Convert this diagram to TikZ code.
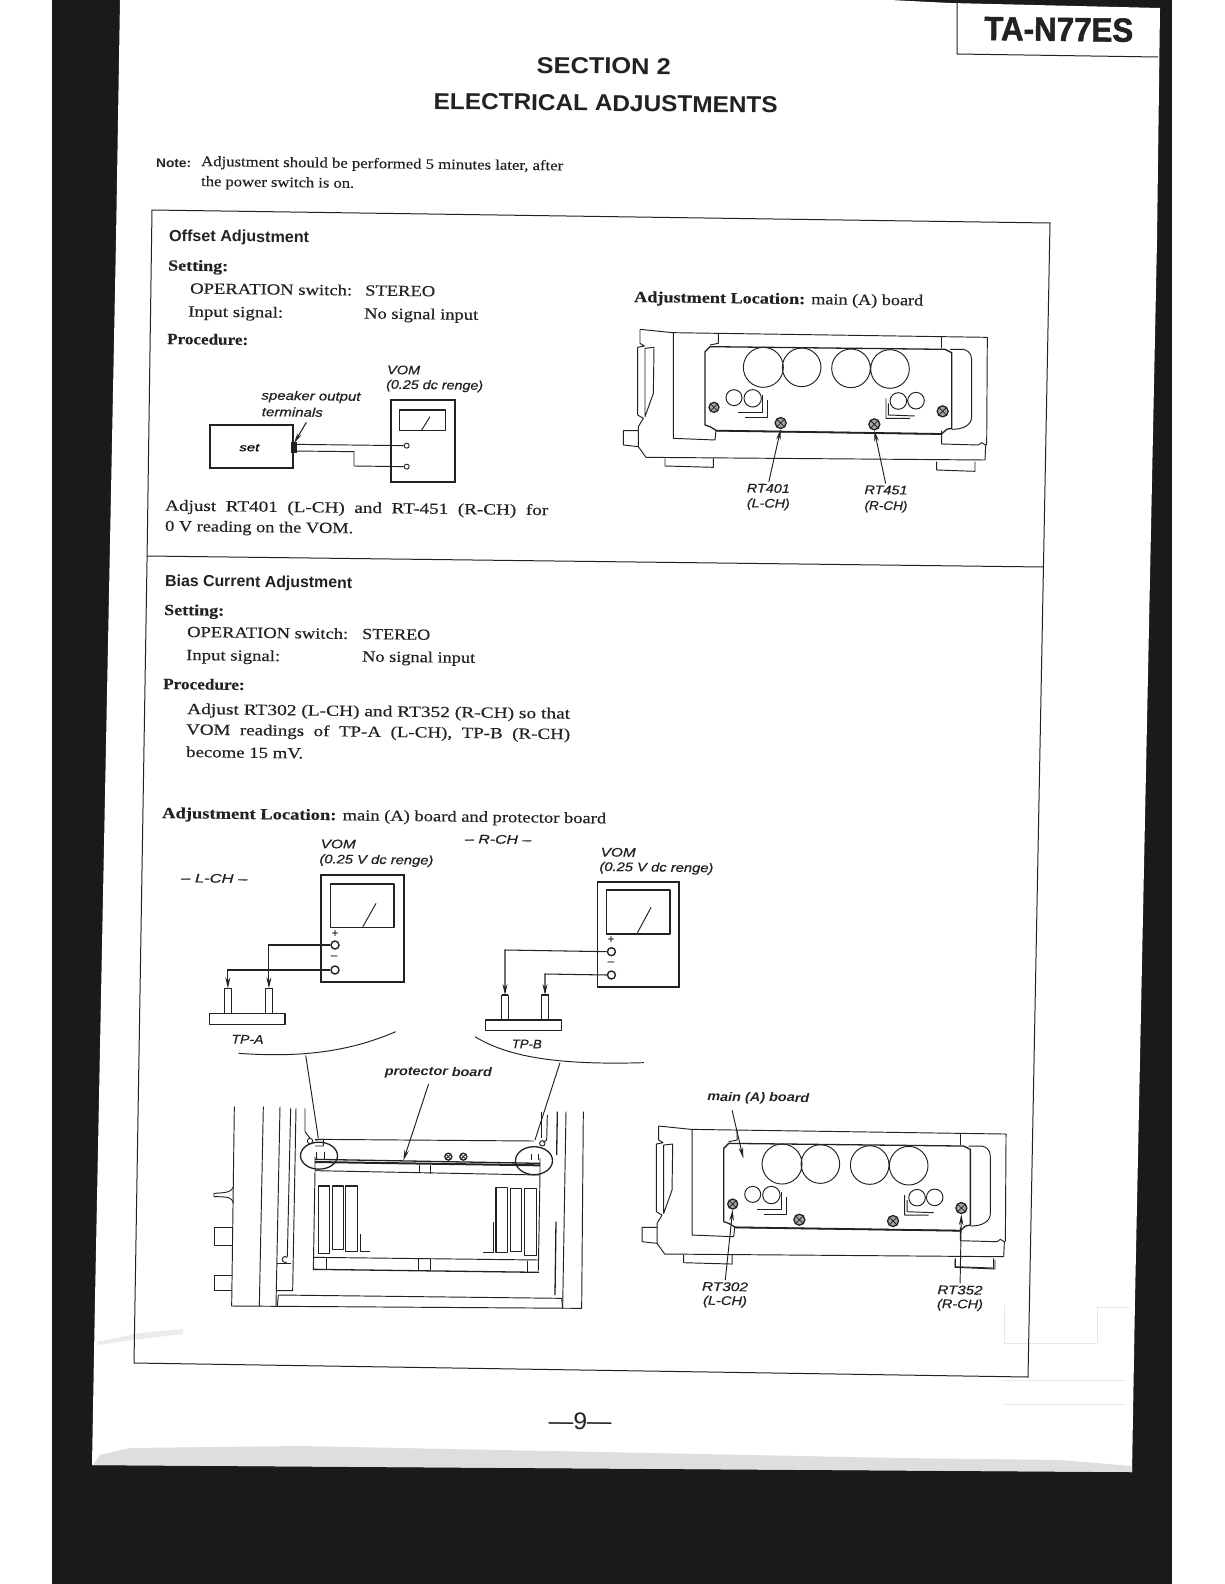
\documentclass[tikz,border=0pt]{standalone}
\usepackage{fontspec}
\usepackage{graphicx}
\usetikzlibrary{arrows.meta}
\setmainfont{Liberation Serif}[FakeBold=0.25]
\setsansfont{Liberation Sans}[ItalicFeatures={FakeBold=0.5}]
\newfontfamily\headfont{Liberation Sans}[BoldFeatures={FakeBold=1.6}]
\definecolor{ink}{HTML}{222222}
\definecolor{band}{HTML}{1A1A1A}
\tikzset{
  thinl/.style={draw=ink,line width=0.95pt,line join=round},
  thickl/.style={draw=ink,line width=1.9pt,line join=miter},
  midl/.style={draw=ink,line width=1.3pt,line join=round},
  frameline/.style={draw=ink,line width=1pt},
  txt/.style={inner sep=0pt,text=ink,rotate=-0.7},
  lab/.style={inner sep=0pt,text=ink,rotate=-0.7,font=\sffamily\itshape\fontsize{12.5}{14}\selectfont},
  term/.style={circle,draw=ink,line width=1.4pt,fill=white,inner sep=0pt,minimum size=8pt},
  termsm/.style={circle,draw=ink,line width=0.9pt,fill=white,inner sep=0pt,minimum size=5pt},
  screwn/.style={circle,draw=ink,line width=1.3pt,fill=black!35,inner sep=0pt,minimum size=#1,
    path picture={\draw[ink,line width=0.8pt] (path picture bounding box.north west)--(path picture bounding box.south east)
      (path picture bounding box.north east)--(path picture bounding box.south west);}},
  lead/.style={draw=ink,line width=0.95pt,shorten <=2pt,-{Stealth[length=11pt,width=4.5pt]}},
  probe/.style={draw=ink,line width=1.05pt,-{Stealth[length=11pt,width=5pt]}},
}
% text line: name, x, y(centre), width, font, text
\newcommand{\tl}[6]{\node[txt,anchor=base west,yshift=-5pt] (#1) at (#2,#3) {\resizebox{#4pt}{\height}{#5#6}};}
% small italic label centred: name, x, y, width, text
\newcommand{\lb}[5]{\node[lab] (#1) at (#2,#3) {\resizebox{#4pt}{\height}{#5}};}
\newcommand{\chassis}[3]{%
\begin{scope}[shift={(#1,#2)},x=0.33333pt,y=-0.33333pt]
  % outer body
  \draw[thinl] (90,58)--(90,100)--(103,108)--(83,112)--(83,315)--(100,325)--(85,350)--(85,410)--(108,442)--(1125,450)--(1127,405)--(1115,398)--(1105,405)--(995,402)--(995,362);
  \draw[thinl] (90,58)--(188,68)--(1132,82)--(1130,405);
  \draw[thinl] (190,68)--(190,385)--(315,390)--(318,360);
  \draw[thinl] (325,72)--(325,100)--(300,105);
  \draw[thinl] (995,82)--(995,115);
  \draw[thinl] (1020,118)--(1060,118)..controls (1085,125) and (1085,140)..(1085,160)--(1085,320)..controls (1085,345) and (1060,358)..(1025,358);
  \draw[thinl] (105,115)--(132,112)--(130,250)--(105,320)--cycle;
  \draw[thinl] (85,362)--(40,362)--(40,405)--(85,410);
  \draw[thinl] (165,445)--(165,468)--(310,472)--(310,445);
  \draw[thinl] (980,455)--(980,480)--(1095,484)--(1095,455);
  % main board
  \draw[midl] (285,125)--(300,110)--(1005,118)--(1025,128)--(1025,355)--(1010,358)--(995,372)--(320,362)--(300,350)--(285,345)--cycle;
  \draw[draw=ink,line width=1.8pt] (320,362)--(995,372);
  % large capacitors
  \draw[thinl] (460,172) circle (20pt) (575,172) circle (19.3pt) (723,175) circle (19.3pt) (840,177) circle (19.3pt);
  \draw[thinl] (372,263) circle (8pt) (428,265) circle (8.7pt) (865,273) circle (8.3pt) (918,272) circle (8.3pt);
  \draw[thinl] (458,255)--(458,307)--(385,307) (472,270)--(472,322)--(405,322);
  \draw[thinl] (828,265)--(828,325)--(900,325) (835,280)--(835,315)--(915,318);
  \node[screwn=10pt] (#31) at (312,292) {};
  \node[screwn=11pt] (#32) at (512,339) {};
  \node[screwn=11pt] (#33) at (793,343) {};
  \node[screwn=11pt] (#34) at (998,304) {};
\end{scope}}
\begin{document}
\begin{tikzpicture}[x=1pt,y=-1pt]
\useasboundingbox (0,0) rectangle (1224,1584);
\fill[white] (0,0) rectangle (1224,1584);
\fill[band] (52,0) rectangle (1172,1584);
\fill[white] (120,0)--(116,240)--(95,1300)--(92,1465)--(1132,1472)--(1135,1300)--(1157,240)--(1160,8)--(950,3)--(890,0)--cycle;
\fill[black!13] (93,1465)--(100,1455)--(130,1448)--(300,1446)--(600,1452)--(900,1458)--(1060,1460)--(1132,1466)--(1132,1472)--cycle;
\fill[black!8] (97,1342)--(140,1333)--(183,1329)--(183,1334)--(140,1339)--(97,1345)--cycle;
\draw[black!9,line width=0.8pt] (1004,1305)--(1004,1343)--(1097,1343)--(1097,1307)--(1130,1307) (1004,1380)--(1125,1380) (1004,1404)--(1125,1404);

% header
\draw[frameline] (957,3)--(957,54)--(1158,57);
\tl{hd}{984}{35}{149}{\headfont\bfseries\fontsize{33.5}{36}\selectfont}{TA-N77ES}
\tl{sec}{536.5}{68}{134}{\sffamily\bfseries\fontsize{23}{26}\selectfont}{SECTION 2}
\tl{elec}{433.5}{104}{344}{\sffamily\bfseries\fontsize{23}{26}\selectfont}{ELECTRICAL ADJUSTMENTS}
\tl{note}{156}{162}{35}{\sffamily\bfseries\fontsize{12.5}{14}\selectfont}{Note:}
\tl{n1}{201}{161}{362}{\fontsize{14.5}{16}\selectfont}{Adjustment should be performed 5 minutes later, after}
\tl{n2}{201}{181}{153}{\fontsize{14.5}{16}\selectfont}{the power switch is on.}

% frame
\draw[frameline] (152,210)--(1050,223)--(1028,1377)--(134,1363)--(147,562)--cycle;
\draw[frameline] (147,556)--(1044,567);

% offset section
\tl{oa}{169}{236}{140}{\sffamily\bfseries\fontsize{16}{18}\selectfont}{Offset Adjustment}
\tl{s1}{168}{265.5}{60}{\bfseries\fontsize{15.5}{18}\selectfont}{Setting:}
\tl{op1}{190}{288.5}{162}{\fontsize{15.5}{18}\selectfont}{OPERATION switch:}
\tl{st1}{365}{290.5}{70}{\fontsize{15.5}{18}\selectfont}{STEREO}
\tl{in1}{188}{311.5}{95}{\fontsize{15.5}{18}\selectfont}{Input signal:}
\tl{no1}{364}{313.5}{114}{\fontsize{15.5}{18}\selectfont}{No signal input}
\tl{pr1}{167}{339}{81}{\bfseries\fontsize{15.5}{18}\selectfont}{Procedure:}
\tl{adj1}{165}{505.5}{383}{\fontsize{15.5}{18}\selectfont}{Adjust\ \ RT401\ \ (L-CH)\ \ and\ \ RT-451\ \ (R-CH)\ \ for}
\tl{adj2}{165}{526}{188}{\fontsize{15.5}{18}\selectfont}{0 V reading on the VOM.}
\tl{al1}{634}{297}{289}{\fontsize{15.5}{18}\selectfont}{\textbf{Adjustment Location:} main (A) board}

% offset connection diagram
\begin{scope}[shift={(150,350)},x=0.33333pt,y=-0.33333pt]
  \draw[thickl] (181,225) rectangle (430,355);
  \node[inner sep=0pt] (setn) at (298,293) {\sffamily\itshape\fontsize{11}{13}\selectfont\resizebox{20pt}{\height}{set}};
  \lb{spk}{483}{141}{99}{speaker output}
  \lb{ter}{427}{186}{61}{terminals}
  \lb{vom0}{761}{60}{33}{VOM}
  \lb{rng0}{854}{108}{97}{(0.25 dc renge)}
  \draw[thickl] (722,150) rectangle (915,395);
  \draw[midl] (748,180) rectangle (887,242);
  \draw[thinl] (815,240)--(840,200);
  \node[termsm] (t1) at (770,287) {};
  \node[termsm] (t2) at (770,350) {};
  \coordinate (sp) at (432,280);
  \coordinate (spt) at (472,212);
  \coordinate (so1) at (430,283);
  \coordinate (so2) at (430,303);
  \draw[thinl] (so1)--(t1);
  \draw[thinl] (so2)--(612,305)--(612,348)--(t2);
  \fill[ink] (422,275) rectangle (440,308);
  \draw[lead,line width=1.1pt] (spt)--(sp);
\end{scope}

% chassis 1
\chassis{610}{310}{a}
\begin{scope}[shift={(610,310)},x=0.33333pt,y=-0.33333pt]
  \lb{rt401}{475}{535}{43}{RT401}
  \lb{lch1}{475}{583}{43}{(L-CH)}
  \lb{rt451}{828}{540}{43}{RT451}
  \lb{rch1}{828}{590}{43}{(R-CH)}
  \draw[lead] (rt401.north)--(a2.south);
  \draw[lead] (rt451.north)--(a3.south);
\end{scope}

% bias section
\tl{ba}{165}{581}{187}{\sffamily\bfseries\fontsize{16}{18}\selectfont}{Bias Current Adjustment}
\tl{s2}{164}{610}{60}{\bfseries\fontsize{15.5}{18}\selectfont}{Setting:}
\tl{op2}{187}{632}{161}{\fontsize{15.5}{18}\selectfont}{OPERATION switch:}
\tl{st2}{362}{634}{68}{\fontsize{15.5}{18}\selectfont}{STEREO}
\tl{in2}{186}{655}{94}{\fontsize{15.5}{18}\selectfont}{Input signal:}
\tl{no2}{362}{656.5}{113}{\fontsize{15.5}{18}\selectfont}{No signal input}
\tl{pr2}{163}{684}{81.5}{\bfseries\fontsize{15.5}{18}\selectfont}{Procedure:}
\tl{b1}{187}{709}{383}{\fontsize{15.5}{18}\selectfont}{Adjust RT302 (L-CH) and RT352 (R-CH) so that}
\tl{b2}{186}{729.5}{384}{\fontsize{15.5}{18}\selectfont}{VOM\ \ readings\ \ of\ \ TP-A\ \ (L-CH),\ \ TP-B\ \ (R-CH)}
\tl{b3}{186}{752}{117}{\fontsize{15.5}{18}\selectfont}{become 15 mV.}
\tl{al2}{162}{813}{444}{\fontsize{15.5}{18}\selectfont}{\textbf{Adjustment Location:} main (A) board and protector board}

% VOM diagrams
\begin{scope}[shift={(160,820)},x=0.35714pt,y=-0.33333pt]
  \lb{lc}{152}{175}{66}{-- L-CH --}
  \lb{rc}{947}{58}{66}{-- R-CH --}
  \lb{v1}{499}{72}{35}{VOM}
  \lb{r1}{606}{122}{114}{(0.25 V dc renge)}
  \lb{v2}{1283}{97}{35}{VOM}
  \lb{r2}{1390}{145}{114}{(0.25 V dc renge)}
  % left meter
  \draw[thickl] (450,165) rectangle (682,485);
  \draw[midl] (477,192) rectangle (655,322);
  \draw[thinl] (568,320)--(605,250);
  \node[inner sep=0pt,font=\sffamily\fontsize{12}{12}\selectfont] (pl1) at (490,343) {+};
  \node[inner sep=0pt,font=\sffamily\fontsize{12}{12}\selectfont] (mi1) at (488,412) {--};
  \node[term] (tl1) at (490,375) {};
  \node[term] (tl2) at (490,450) {};
  % left probe block
  \draw[midl] (138,580) rectangle (350,613);
  \draw[thinl] (181,505) rectangle (200,580);
  \draw[thinl] (294,505) rectangle (315,580);
  \draw[midl,line width=1.6pt] (181,505)--(200,505) (294,505)--(315,505);
  \coordinate (pa) at (190,505);
  \coordinate (pb) at (305,505);
  \draw[probe] (tl1.west)--(305,375)--(pb);
  \draw[probe] (tl2.west)--(190,450)--(pa);
  \lb{tpa}{245}{658}{32}{TP-A}
  % right meter
  \draw[thickl] (1225,185) rectangle (1452,502);
  \draw[midl] (1250,210) rectangle (1428,342);
  \draw[thinl] (1337,338)--(1375,262);
  \node[inner sep=0pt,font=\sffamily\fontsize{12}{12}\selectfont] (pl2) at (1263,360) {+};
  \node[inner sep=0pt,font=\sffamily\fontsize{12}{12}\selectfont] (mi2) at (1263,432) {--};
  \node[term] (tr1) at (1264,395) {};
  \node[term] (tr2) at (1264,465) {};
  \draw[midl] (912,600) rectangle (1125,632);
  \draw[thinl] (957,525) rectangle (975,600);
  \draw[thinl] (1068,525) rectangle (1088,600);
  \draw[midl,line width=1.6pt] (957,525)--(975,525) (1068,525)--(1088,525);
  \coordinate (pc) at (966,525);
  \coordinate (pd) at (1078,525);
  \draw[probe] (tr1.west)--(966,390)--(pc);
  \draw[probe] (tr2.west)--(1078,462)--(pd);
  \lb{tpb}{1027}{672}{30}{TP-B}
  % zoom arcs
  \draw[thinl] (220,700)..controls (380,712) and (520,700)..(660,635);
  \draw[thinl] (882,650)..controls (980,715) and (1130,735)..(1355,728);
  \coordinate (arcl) at (408,706);
  \coordinate (arcr) at (1120,728);
\end{scope}

% top view
\begin{scope}[shift={(200,1060)},x=0.33333pt,y=-0.33333pt]
  \lb{prot}{715}{38}{107}{\bfseries protector board}
  \draw[thinl] (103,140)--(95,738)--(1145,745)--(1150,155);
  \draw[thinl] (190,140)--(178,738);
  \draw[thinl] (240,140)--(228,738);
  \draw[thinl] (272,145)--(262,590);
  \draw[thinl] (288,145)--(278,692)--(228,692);
  \draw[thinl] (1098,155)--(1088,745);
  \draw[thinl] (235,705)--(1085,715)--(1088,745);
  \draw[thinl] (235,705)--(232,740);
  \draw[midl] (1072,155)--(1070,285);
  \draw[midl] (1068,485)--(1065,705);
  \draw[thinl] (315,145)--(315,215)--(330,235);
  \draw[thinl] (1025,155)--(1025,235);
  \draw[thinl] (1042,165)--(1040,240)--(1030,247);
  \draw[thinl] (345,238)--(1002,243);
  \draw[thinl] (330,243) circle (2.7pt) (1027,250) circle (2.7pt);
  \draw[thinl] (345,240)--(370,238)--(370,258)--(345,258);
  \node[screwn=7pt,fill=white] (sc1) at (745,290) {};
  \node[screwn=7pt,fill=white] (sc2) at (790,290) {};
  % board
  \draw[midl] (345,298)--(1020,310);
  \draw[line width=2pt,ink] (345,306)--(1020,316);
  \draw[thinl] (345,290)--(345,330) (1020,295)--(1020,345) (345,332)--(1020,345);
  \draw[thinl] (658,315)--(658,340) (692,315)--(692,341);
  \draw[thinl] (350,275)--(350,296) (372,275)--(372,296) (995,282)--(995,300) (1015,282)--(1015,300);
  \draw[midl] (357,287) ellipse (18.5pt and 13.5pt);
  \draw[midl] (1002,302) ellipse (18.5pt and 14pt);
  \coordinate (elll) at (355,235);
  \coordinate (ellr) at (1005,240);
  \coordinate (pbd) at (610,302);
  \draw[lead] (prot.south) ++(-27,10)--(pbd);
  % module
  \draw[thinl] (345,335)--(340,630) (1020,345)--(1015,632);
  \draw[thinl] (342,592)--(1017,600);
  \draw[midl] (340,628)--(1017,637);
  \draw[thinl] (378,595)--(378,628) (655,598)--(655,630) (690,598)--(690,631) (982,602)--(982,635);
  \draw[midl] (355,378) rectangle (388,580);
  \draw[midl] (397,378) rectangle (430,568);
  \draw[midl] (437,378) rectangle (472,575);
  \draw[midl] (888,383) rectangle (923,578);
  \draw[midl] (932,385) rectangle (965,575);
  \draw[midl] (973,385) rectangle (1010,587);
  \draw[thinl] (480,523)--(480,575)--(510,575) (880,487)--(880,578)--(850,578);
  % front panel
  \draw[thinl] (100,380)..controls (95,395) and (85,398)..(42,400)--(42,410)..controls (85,410) and (95,412)..(100,428);
  \draw[thinl] (97,503)--(42,503)--(42,555)--(97,555);
  \draw[thinl] (97,645)--(42,645)--(42,692)--(97,692);
  \draw[thinl] (262,592) arc (45:300:3pt);
  \draw[thinl] (232,610)--(272,610);
\end{scope}
\draw[thinl] (arcl)--(elll);
\draw[thinl] (arcr)--(ellr);

% chassis 2
\chassis{628.7}{1106.7}{b}
\begin{scope}[shift={(630,1070)},x=0.33333pt,y=-0.33333pt]
  \lb{mab}{385}{85}{102}{\bfseries main (A) board}
  \coordinate (mabt) at (340,265);
  \draw[lead] (mab.south) ++(-80,12)--(mabt);
  \lb{rt302}{285}{650}{46}{RT302}
  \lb{lch2}{285}{695}{44}{(L-CH)}
  \lb{rt352}{990}{660}{45}{RT352}
  \lb{rch2}{990}{705}{46}{(R-CH)}
  \draw[lead] (rt302.north)--(b1.south);
  \draw[lead] (rt352.north)--(b4.south);
  \draw[thinl] (975,568)--(975,592)--(1095,597)--(1095,570);
\end{scope}

% page number
\tl{pg}{548.5}{1424}{63}{\sffamily\fontsize{24}{26}\selectfont}{---9---}
\end{tikzpicture}
\end{document}
